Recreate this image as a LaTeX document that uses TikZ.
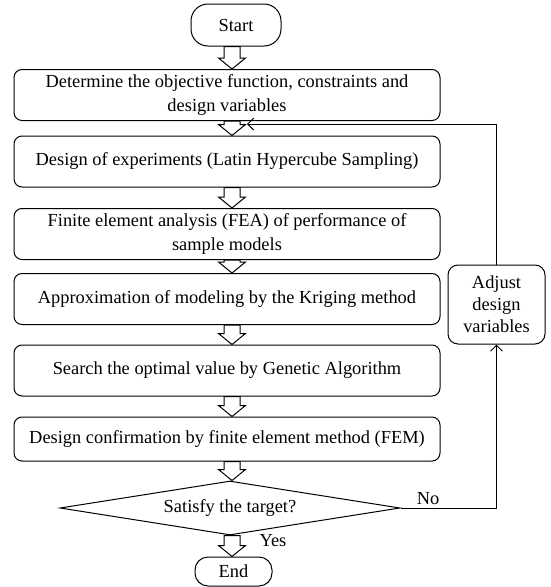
\documentclass[tikz,border=0pt]{standalone}
\usepackage{fontspec}
\setmainfont{Liberation Serif}
\usetikzlibrary{shapes.geometric,arrows.meta,calc}

\newcommand{\fatarrow}[2]{%
\draw [fatarr] let \p1=(#1.south -| axis), \p2=(#2.north -| axis) in
  (\x1-8pt,\y1) -- (\x1+8pt,\y1) -- (\x1+8pt,\y2+11pt) -- (\x1+13.5pt,\y2+11pt)
  -- (\x1,\y2) -- (\x1-13.5pt,\y2+11pt) -- (\x1-8pt,\y2+11pt) -- cycle;}

\begin{document}
\begin{tikzpicture}[x=1pt,y=-1pt,
  every node/.style={font=\fontsize{18.4}{24}\selectfont},
  stepbox/.style={draw, line width=1pt, rounded corners=8pt, align=center,
    minimum width=426pt, minimum height=51pt, inner sep=0pt},
  terminal/.style={draw, line width=1pt, inner sep=0pt},
  fatarr/.style={draw, line width=1pt, fill=white, line join=miter},
  feedback/.style={line width=1pt, -{Straight Barb[length=6pt,width=12pt]}}]
\useasboundingbox (0,0) rectangle (550,587);
\coordinate (axis) at (232,0);

\node [terminal, rounded corners=17pt, minimum width=90pt, minimum height=42pt] (start) at (236,25) {Start};
\node [stepbox] (objective) at (227,95) {Determine the objective function, constraints and\\design variables};
\node [stepbox] (doe) at (227,161.5) {Design of experiments (Latin Hypercube Sampling)};
\node [stepbox] (fea) at (227,234) {Finite element analysis (FEA) of performance of\\sample models};
\node [stepbox] (kriging) at (227,299) {Approximation of modeling by the Kriging method};
\node [stepbox] (ga) at (227,370.5) {Search the optimal value by Genetic Algorithm};
\node [stepbox, minimum height=44pt] (fem) at (227,439) {Design confirmation by finite element method (FEM)};
\node [draw, line width=1pt, diamond, aspect=6.3, inner sep=0pt, minimum width=340pt, minimum height=54pt] (check) at (230,508) {Satisfy the target?};
\node [terminal, rounded corners=13pt, minimum width=77pt, minimum height=29pt] (end) at (233.5,571.5) {End};
\node [draw, line width=1pt, rounded corners=10pt, align=center, inner sep=0pt,
  minimum width=97pt, minimum height=79pt, font=\fontsize{18.4}{22}\selectfont] (adjust) at (496.5,304.5) {Adjust\\design\\variables};

\fatarrow{start}{objective}
\fatarrow{objective}{doe}
\fatarrow{doe}{fea}
\fatarrow{fea}{kriging}
\fatarrow{kriging}{ga}
\fatarrow{ga}{fem}
\fatarrow{fem}{check}
\fatarrow{check}{end}

\node (no) at (428,499) {No};
\node (yes) at (273,541) {Yes};

\coordinate (merge) at (247,124);
\draw [feedback] (check.east) -| (adjust.south);
\draw [feedback] (adjust.north) |- (merge);
\end{tikzpicture}
\end{document}
